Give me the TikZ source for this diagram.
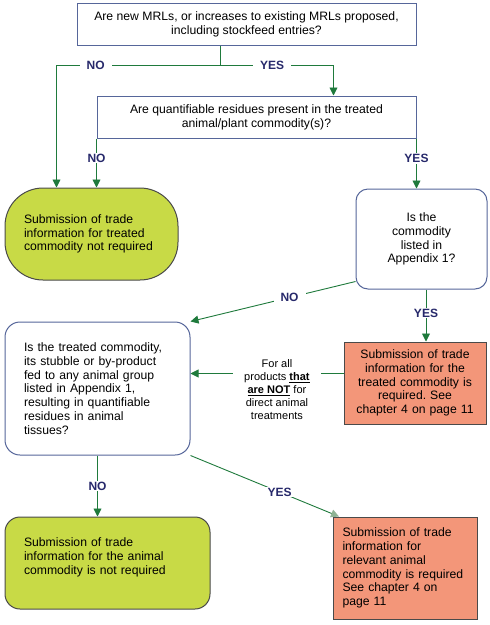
\documentclass[tikz,border=0pt]{standalone}
\usepackage{fontspec}
\setmainfont{Liberation Sans}
\usetikzlibrary{arrows.meta, calc, positioning}
\definecolor{boxblue}{HTML}{56669A}
\definecolor{flowgreen}{HTML}{1F7A3C}
\definecolor{paleflow}{HTML}{8FB394}
\definecolor{labelblue}{HTML}{27296B}
\definecolor{limefill}{HTML}{C8DA46}
\definecolor{salmonfill}{HTML}{F39679}
\definecolor{edgegray}{HTML}{4A4A4A}
\frenchspacing

\begin{document}
\begin{tikzpicture}[
    x=1pt, y=-1pt,
    font=\fontsize{12.2}{13.8}\selectfont,
    question/.style={draw=boxblue, line width=1pt, fill=white, align=center, inner sep=2pt},
    greenend/.style={draw=edgegray, line width=1pt, fill=limefill, align=left, inner xsep=19pt},
    redend/.style={draw=edgegray, line width=1pt, fill=salmonfill},
    flow/.style={-{Triangle[width=8pt, length=8pt]}, flowgreen, line width=0.9pt},
    lbl/.style={fill=white, text=labelblue, font=\fontsize{12}{14}\bfseries\selectfont, inner xsep=7pt, inner ysep=1pt}
]
\useasboundingbox (0,0) rectangle (490,625);

% Fragen
\node[question, minimum width=339pt, minimum height=42pt] (mrl) at (246.5,24)
    {Are new MRLs, or increases to existing MRLs proposed,\\including stockfeed entries?};
\node[question, minimum width=319pt, minimum height=42pt] (residues) at (256.5,117)
    {Are quantifiable residues present in the treated\\animal/plant commodity(s)?};
\node[question, rounded corners=12pt, minimum width=131pt, minimum height=100pt] (listed) at (421.5,239)
    {Is the\\commodity\\listed in\\Appendix 1?};
\node[question, rounded corners=15pt, align=left, text width=147pt, inner xsep=19pt, minimum height=133pt] (feed) at (97.5,388.5)
    {Is the treated commodity,\\its stubble or by-product\\fed to any animal group\\listed in Appendix 1,\\resulting in quantifiable\\residues in animal\\tissues?};

% Ergebnisse
\node[greenend, rounded corners=38pt, text width=135pt, minimum height=92pt] (notreq) at (91.5,234)
    {Submission of trade\\information for treated\\commodity not required};
\node[greenend, rounded corners=15pt, text width=167pt, minimum height=92pt] (animalno) at (107.5,563)
    {Submission of trade\\information for the animal\\commodity is not required\\\mbox{}};
\node[redend, align=center, text width=138pt, inner xsep=2pt, minimum height=82pt] (required) at (415,383)
    {Submission of trade\\information for the\\treated commodity is\\required. See\\chapter 4 on page 11};
\node[redend, align=left, text width=126pt, inner xsep=9pt, minimum height=102pt] (animalyes) at (405.5,568)
    {Submission of trade\\information for\\relevant animal\\commodity is required\\See chapter 4 on\\page 11};

% Hilfspunkte
\coordinate (split) at (220,65);
\coordinate (yesdrop) at ($(listed.south)+(4.5,0)$);
\coordinate (notfor) at ($(required.west)+(0,-9.5)$);

% Verbindungen
\draw[flowgreen, line width=0.9pt] (mrl.south -| split) -- (split);
\draw[flow] (split) -| node[lbl, pos=0.38] {NO} ($(notreq.north west)+(52,0)$);
\draw[flow] (split) -| node[lbl, pos=0.23] {YES} ($(residues.north east)+(-83,0)$);
\draw[flow] (residues.south west) -- node[lbl, pos=0.4] {NO} (residues.south west |- notreq.north);
\draw[flow] (residues.south east) -- node[lbl, pos=0.4] {YES} (residues.south east |- listed.north);
\draw[flow] ($(listed.south west)+(0,-8)$) -- node[lbl, pos=0.4] {NO} (feed.north east);
\draw[flow] (yesdrop) -- node[lbl, pos=0.45] {YES} (yesdrop |- required.north);
\draw[flow] (notfor) -- node[pos=0.435, yshift=-16pt, fill=white, text=black, align=center, inner xsep=11pt, font=\fontsize{11}{12.8}\selectfont]
    {For all\\products \underline{\textbf{that}}\\\underline{\textbf{are NOT}} for\\direct animal\\treatments} (notfor -| feed.east);
\draw[flow] (feed.south) -- node[lbl, pos=0.5] {NO} (feed.south |- animalno.north);
\draw[flow, -{Triangle[width=8pt, length=8pt, color=paleflow]}] (feed.south east) -- node[lbl, pos=0.6] {YES} ($(animalyes.north west)+(6,0)$);

\end{tikzpicture}
\end{document}
